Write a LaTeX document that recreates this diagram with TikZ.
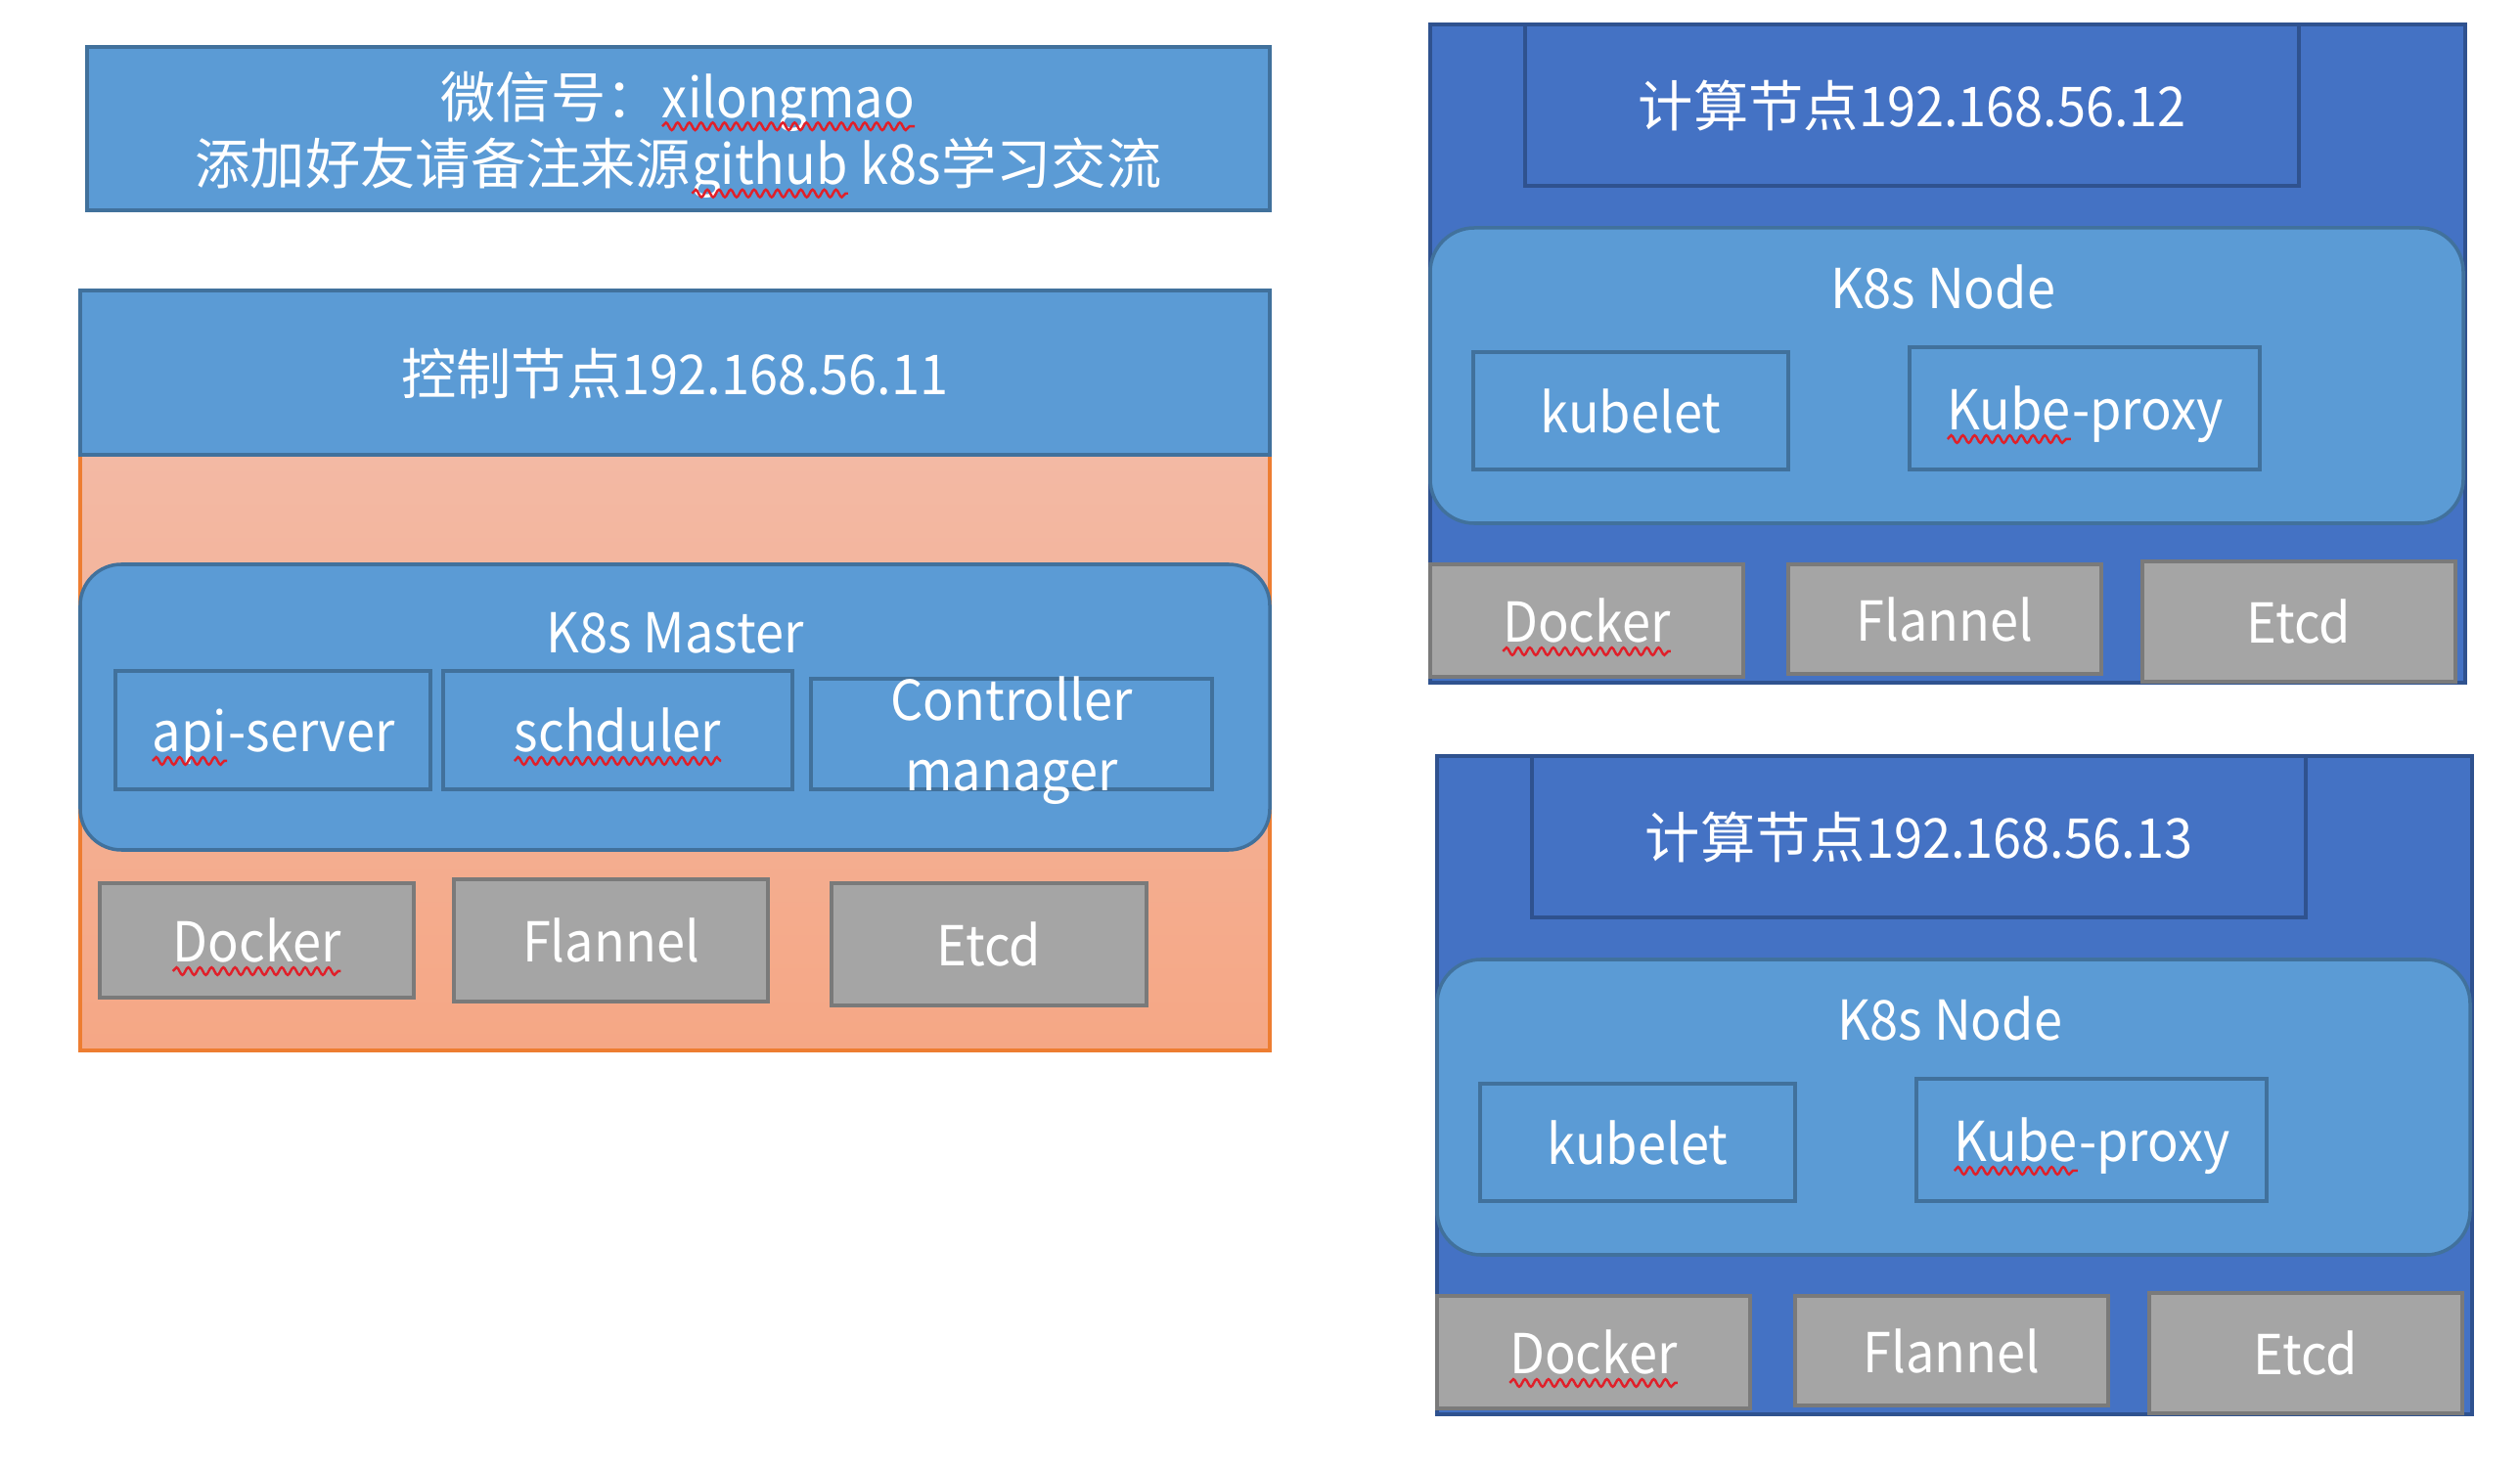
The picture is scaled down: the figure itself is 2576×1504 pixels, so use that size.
\documentclass[tikz,border=0pt]{standalone}
\usepackage{fontspec}
\setmainfont{Noto Sans CJK SC}
\newfontfamily\narrow[FakeStretch=0.93]{Noto Sans CJK SC}
\usetikzlibrary{decorations.pathmorphing}

\definecolor{officeblue}{HTML}{5B9BD5}
\definecolor{blueedge}{HTML}{41719C}
\definecolor{nodeblue}{HTML}{4472C4}
\definecolor{darkedge}{HTML}{2F528F}
\definecolor{compgray}{HTML}{A5A5A5}
\definecolor{grayedge}{HTML}{7A7A7A}
\definecolor{salmontop}{HTML}{F3B9A4}
\definecolor{salmonbot}{HTML}{F5A785}
\definecolor{orangeedge}{HTML}{ED7D31}
\definecolor{spellred}{HTML}{E0202A}

% red spell-check wave under a word
\newcommand{\spellwave}[1]{\tikz[baseline=(w.base)]{\node[inner sep=0pt, outer sep=0pt, text height={}, text depth={}] (w) {#1};
    \draw[spellred, line width=0.7pt, decorate, decoration={snake, amplitude=1.1pt, segment length=3.4pt}]
    ([yshift=-2.6pt]w.base west) -- ([yshift=-2.6pt]w.base east);}}

\begin{document}
\begin{tikzpicture}[x=0.01cm, y=-0.01cm,
    lbl/.style={text=white, font=\fontsize{16pt}{20.5pt}\selectfont\narrow, inner sep=0pt, text height=12.7pt, text depth=0pt},
    cjk/.style={font=\fontsize{16pt}{20.5pt}\selectfont},
    twolines/.style={text=white, font=\fontsize{16pt}{20.5pt}\selectfont\narrow, inner sep=0pt, align=center, yshift=-1.8pt},
    bluebox/.style={fill=officeblue, draw=blueedge, line width=1pt},
    darkbox/.style={fill=nodeblue, draw=darkedge, line width=1pt},
    greybox/.style={fill=compgray, draw=grayedge, line width=1pt},
    pill/.style={bluebox, rounded corners=0.42cm}]
    \useasboundingbox (0,0) rectangle (2576,1504);

    % banner
    \draw[bluebox] (89,48) rectangle node[twolines, font=\fontsize{16pt}{19.5pt}\selectfont] (wechat)
        {微信号：{\narrow\spellwave{xilongmao}}\\添加好友请备注来源{\narrow\spellwave{github} k8s}学习交流} (1298,215);

    % control node
    \draw[draw=orangeedge, line width=1pt, top color=salmontop, bottom color=salmonbot] (82,465) rectangle (1298,1074);
    \draw[bluebox] (82,297) rectangle node[lbl, cjk] (ctrlhead) {控制节点{\narrow 192.168.56.11}} (1298,465);
    \draw[pill] (82,577) rectangle (1298,869);
    \node[lbl] (master) at (690,645) {K8s Master};
    \draw[bluebox] (118,686) rectangle node[lbl] (apiserver) {\spellwave{api}-server} (440,807);
    \draw[bluebox] (453,686) rectangle node[lbl] (scheduler) {\spellwave{schduler}} (810,807);
    \draw[bluebox] (829,694) rectangle node[twolines] (ctrlmgr) {Controller\\manager} (1239,807);
    \draw[greybox] (102,903) rectangle node[lbl] (docker11) {\spellwave{Docker}} (423,1020);
    \draw[greybox] (464,899) rectangle node[lbl] (flannel11) {Flannel} (785,1024);
    \draw[greybox] (850,903) rectangle node[lbl] (etcd11) {Etcd} (1172,1028);

    % compute nodes
    \foreach \dx/\dy/\ip in {0/0/12, 7/748/13}{
        \begin{scope}[shift={(\dx,\dy)}]
            \draw[darkbox] (1462,25) rectangle (2520,698);
            \draw[darkbox] (1559,25) rectangle node[lbl, cjk] (head\ip) {计算节点{\narrow 192.168.56.\ip}} (2350,190);
            \draw[pill, rounded corners=0.45cm] (1462,233) rectangle (2518,535);
            \node[lbl] (k8snode\ip) at (1986,293) {K8s Node};
            \draw[bluebox] (1506,360) rectangle node[lbl] (kubelet\ip) {kubelet} (1828,480);
            \draw[bluebox] (1952,355) rectangle node[lbl] (proxy\ip) {\spellwave{Kube}-proxy} (2310,480);
            \draw[greybox] (1462,577) rectangle node[lbl] (docker\ip) {\spellwave{Docker}} (1782,692);
            \draw[greybox] (1828,577) rectangle node[lbl] (flannel\ip) {Flannel} (2148,689);
            \draw[greybox] (2190,574) rectangle node[lbl] (etcd\ip) {Etcd} (2510,697);
        \end{scope}
    }
\end{tikzpicture}
\end{document}
